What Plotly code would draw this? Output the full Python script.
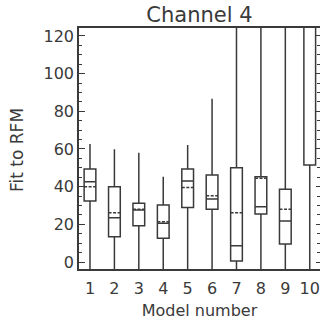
import plotly.graph_objects as go

# Box statistics per model (Fit to RFM, Channel 4)
models = [1, 2, 3, 4, 5, 6, 7, 8, 9, 10]
lower_whisker = [-5, -5, -5, -5, -5, -5, -5, -5, -5, -5]
q1 = [32.4, 13.4, 19.3, 12.6, 29.0, 28.0, 0.5, 25.5, 9.6, 51.5]
median = [42.6, 23.5, 27.6, 20.6, 43.0, 33.5, 8.7, 29.4, 21.8, 135.0]
mean = [40.0, 26.2, 28.0, 21.4, 39.5, 35.2, 26.2, 44.4, 28.0, 130.0]
q3 = [49.4, 40.0, 31.2, 30.3, 49.4, 46.2, 50.1, 45.3, 38.6, 150.0]
upper_whisker = [62.7, 59.8, 58.0, 45.3, 62.1, 86.6, 160.0, 160.0, 160.0, 200.0]

x_ticks = [str(m) for m in models]
y_ticks = [0, 20, 40, 60, 80, 100, 120]

ink = "#3a3a3a"
font = "DejaVu Sans"
y_range = [-3.7, 124.2]

fig = go.Figure()
fig.add_trace(go.Box(
    x=models,
    q1=q1,
    median=median,
    q3=q3,
    lowerfence=lower_whisker,
    upperfence=upper_whisker,
    mean=mean,
    boxmean=True,
    boxpoints=False,
    width=0.48,
    whiskerwidth=0,
    fillcolor="rgba(0,0,0,0)",
    line=dict(color=ink, width=1.5),
    showlegend=False,
))

# Right-hand axis: tick marks only, no line
fig.add_trace(go.Scatter(x=[None], y=[None], yaxis="y2", showlegend=False,
                         hoverinfo="skip"))

fig.update_layout(
    width=320,
    height=320,
    margin=dict(l=79, r=0, t=28, b=51),
    paper_bgcolor="white",
    plot_bgcolor="white",
    font=dict(family=font, size=16, color=ink),
    title=dict(
        text="Channel 4",
        x=(79 + 320) / 2 / 320,
        xanchor="center",
        y=1 - 15 / 320,
        yanchor="middle",
        font=dict(size=21, color=ink),
    ),
    xaxis=dict(
        range=[0.55, 10.42],
        tickmode="array",
        tickvals=models,
        ticktext=x_ticks,
        ticks="",
        showgrid=False,
        zeroline=False,
        showline=True,
        linecolor=ink,
        linewidth=1.5,
        mirror=True,
        tickfont=dict(size=16),
        ticklabelstandoff=4,
        title=dict(text="Model number", font=dict(size=16), standoff=9),
    ),
    yaxis=dict(
        range=y_range,
        tickmode="array",
        tickvals=y_ticks,
        ticks="inside",
        ticklen=6,
        tickcolor=ink,
        minor=dict(dtick=5, ticks="inside", ticklen=3, tickcolor=ink),
        showgrid=False,
        zeroline=False,
        showline=True,
        linecolor=ink,
        linewidth=1.5,
        tickfont=dict(size=16),
    ),
    yaxis2=dict(
        range=y_range,
        overlaying="y",
        side="right",
        tickmode="array",
        tickvals=y_ticks,
        ticks="inside",
        ticklen=4,
        tickcolor=ink,
        minor=dict(dtick=5, ticks="inside", ticklen=3, tickcolor=ink),
        showticklabels=False,
        showgrid=False,
        zeroline=False,
        showline=False,
    ),
    annotations=[dict(
        text="Fit to RFM",
        textangle=-90,
        xref="paper",
        yref="paper",
        x=(17 - 79) / 241,
        y=(269 - 150) / 241,
        xanchor="center",
        yanchor="middle",
        showarrow=False,
        font=dict(size=17, color=ink),
    )],
)

fig.write_html("out.html")
